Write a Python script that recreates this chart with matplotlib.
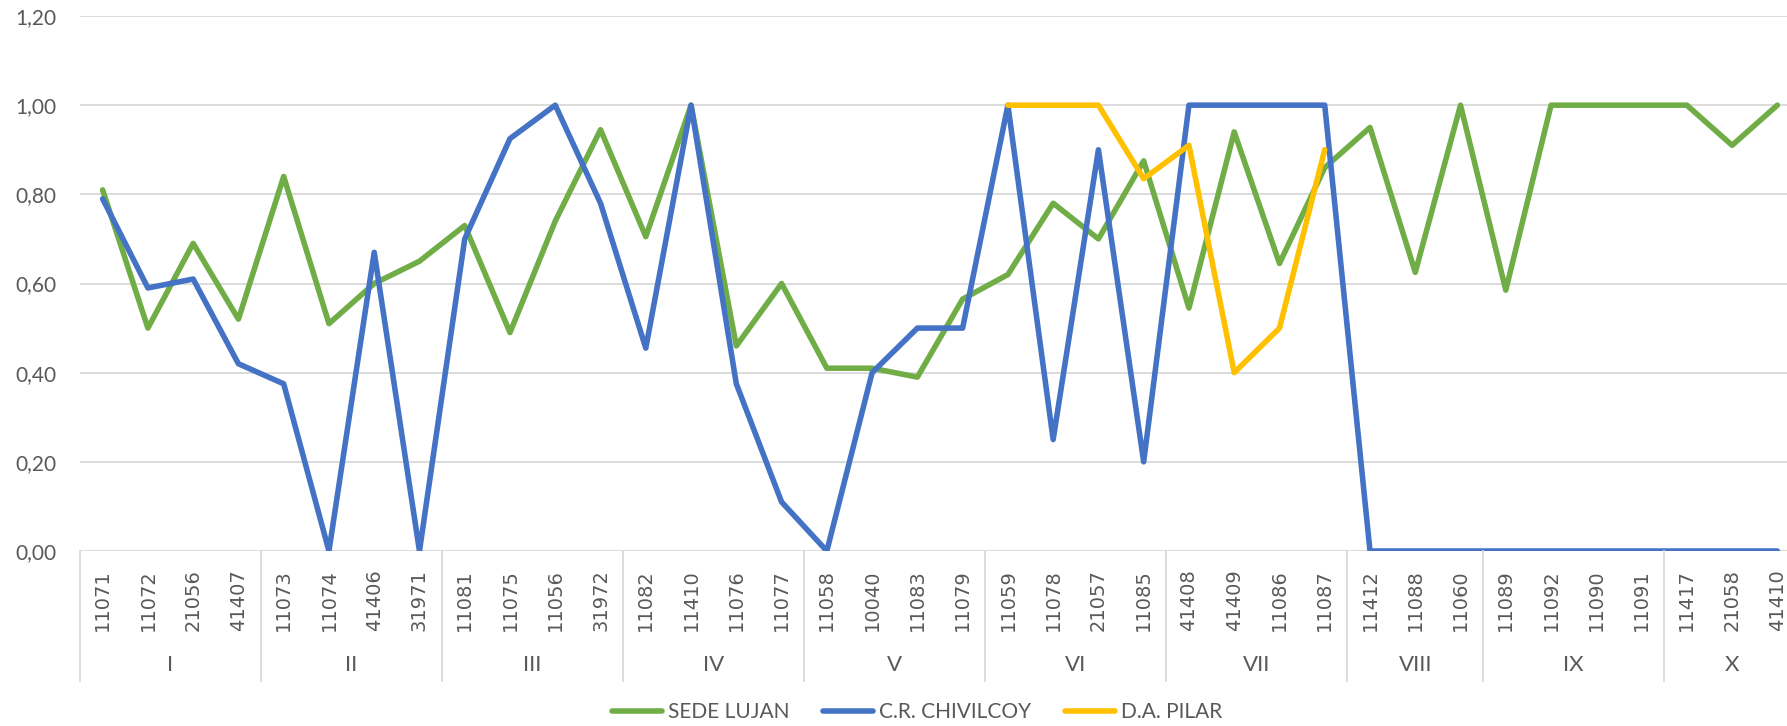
import numpy as np
import matplotlib
matplotlib.use("Agg")
import matplotlib.pyplot as plt
import matplotlib.transforms as mtransforms
from matplotlib import font_manager

# category codes and their roman-numeral groups
groups = ["I", "II", "III", "IV", "V", "VI", "VII", "VIII", "IX", "X"]
codes = [
    ["11071", "11072", "21056", "41407"],
    ["11073", "11074", "41406", "31971"],
    ["11081", "11075", "11056", "31972"],
    ["11082", "11410", "11076", "11077"],
    ["11058", "10040", "11083", "11079"],
    ["11059", "11078", "21057", "11085"],
    ["41408", "41409", "11086", "11087"],
    ["11412", "11088", "11060"],
    ["11089", "11092", "11090", "11091"],
    ["11417", "21058", "41410"],
]

sede_lujan = [0.81, 0.50, 0.69, 0.52, 0.84, 0.51, 0.60, 0.65,
              0.73, 0.49, 0.74, 0.945, 0.705, 1.00, 0.46, 0.60,
              0.41, 0.41, 0.39, 0.565, 0.62, 0.78, 0.70, 0.875,
              0.545, 0.94, 0.645, 0.86, 0.95, 0.625, 1.00,
              0.585, 1.00, 1.00, 1.00, 1.00, 0.91, 1.00]
chivilcoy = [0.79, 0.59, 0.61, 0.42, 0.375, 0.00, 0.67, 0.00,
             0.70, 0.925, 1.00, 0.78, 0.455, 1.00, 0.375, 0.11,
             0.00, 0.40, 0.50, 0.50, 1.00, 0.25, 0.90, 0.20,
             1.00, 1.00, 1.00, 1.00, 0.00, 0.00, 0.00,
             0.00, 0.00, 0.00, 0.00, 0.00, 0.00, 0.00]
nan = np.nan
pilar = [nan, nan, nan, nan, nan, nan, nan, nan,
         nan, nan, nan, nan, nan, nan, nan, nan,
         nan, nan, nan, nan, 1.00, 1.00, 1.00, 0.835,
         0.91, 0.40, 0.50, 0.90, nan, nan, nan,
         nan, nan, nan, nan, nan, nan, nan]

labels = [c for g in codes for c in g]
x = np.arange(len(labels))

# something close to Calibri: a narrow face if there is one, else Lato
installed = {f.name for f in font_manager.fontManager.ttflist}
narrow_name = "Liberation Sans Narrow" if "Liberation Sans Narrow" in installed else "Lato"
narrow = [narrow_name, "DejaVu Sans"]
fs = 15.5 if narrow_name == "Liberation Sans Narrow" else 15
grey = "#595959"

fig = plt.figure(figsize=(17.87, 7.26), dpi=100)
W, H = 1787, 726
left, right, top, bottom = 80, 1800, 16, 551
ax = fig.add_axes([left / W, 1 - bottom / H, (right - left) / W, (bottom - top) / H])

ax.plot(x, sede_lujan, color="#70AD47", lw=4, solid_joinstyle="round",
        solid_capstyle="round", label="SEDE LUJAN")
ax.plot(x, chivilcoy, color="#4472C4", lw=4, solid_joinstyle="round",
        solid_capstyle="round", label="C.R. CHIVILCOY")
ax.plot(x, pilar, color="#FFC000", lw=4, solid_joinstyle="round",
        solid_capstyle="round", label="D.A. PILAR")

ax.set_xlim(-0.5, len(labels) - 0.5)
ax.set_ylim(0, 1.2)
ax.set_yticks(np.arange(0, 1.21, 0.2))
ax.set_yticklabels([f"{v:.2f}".replace(".", ",") for v in np.arange(0, 1.21, 0.2)],
                   family=narrow, fontsize=fs, color=grey)
ax.tick_params(axis="y", length=0, pad=17)
ax.grid(axis="y", color="#D9D9D9", lw=1.3)
ax.set_axisbelow(True)
for s in ax.spines.values():
    s.set_visible(False)

ax.set_xticks(x)
ax.set_xticklabels(labels, rotation=90, fontsize=14, color=grey,
                   family="DejaVu Sans")
ax.tick_params(axis="x", length=0, pad=13)

# group separators and group labels below the codes
trans = mtransforms.blended_transform_factory(ax.transData, ax.transAxes)
start = 0
bounds = [-0.5]
for g, cs in zip(groups, codes):
    mid = start + (len(cs) - 1) / 2
    ax.text(mid, -0.213, g, transform=trans, ha="center", va="center",
            family=narrow, fontsize=fs + 1, color=grey)
    start += len(cs)
    bounds.append(start - 0.5)
for b in bounds:
    ax.plot([b, b], [0, -0.243], transform=trans, color="#D9D9D9", lw=1.3,
            clip_on=False)

fig.legend(loc="center", bbox_to_anchor=(917 / W, 1 - 712 / H), ncol=3,
           frameon=False, handlelength=2.4, handletextpad=0.3,
           columnspacing=1.6, prop={"family": narrow, "size": fs},
           labelcolor=grey)

fig.savefig("out.png", dpi=100)
